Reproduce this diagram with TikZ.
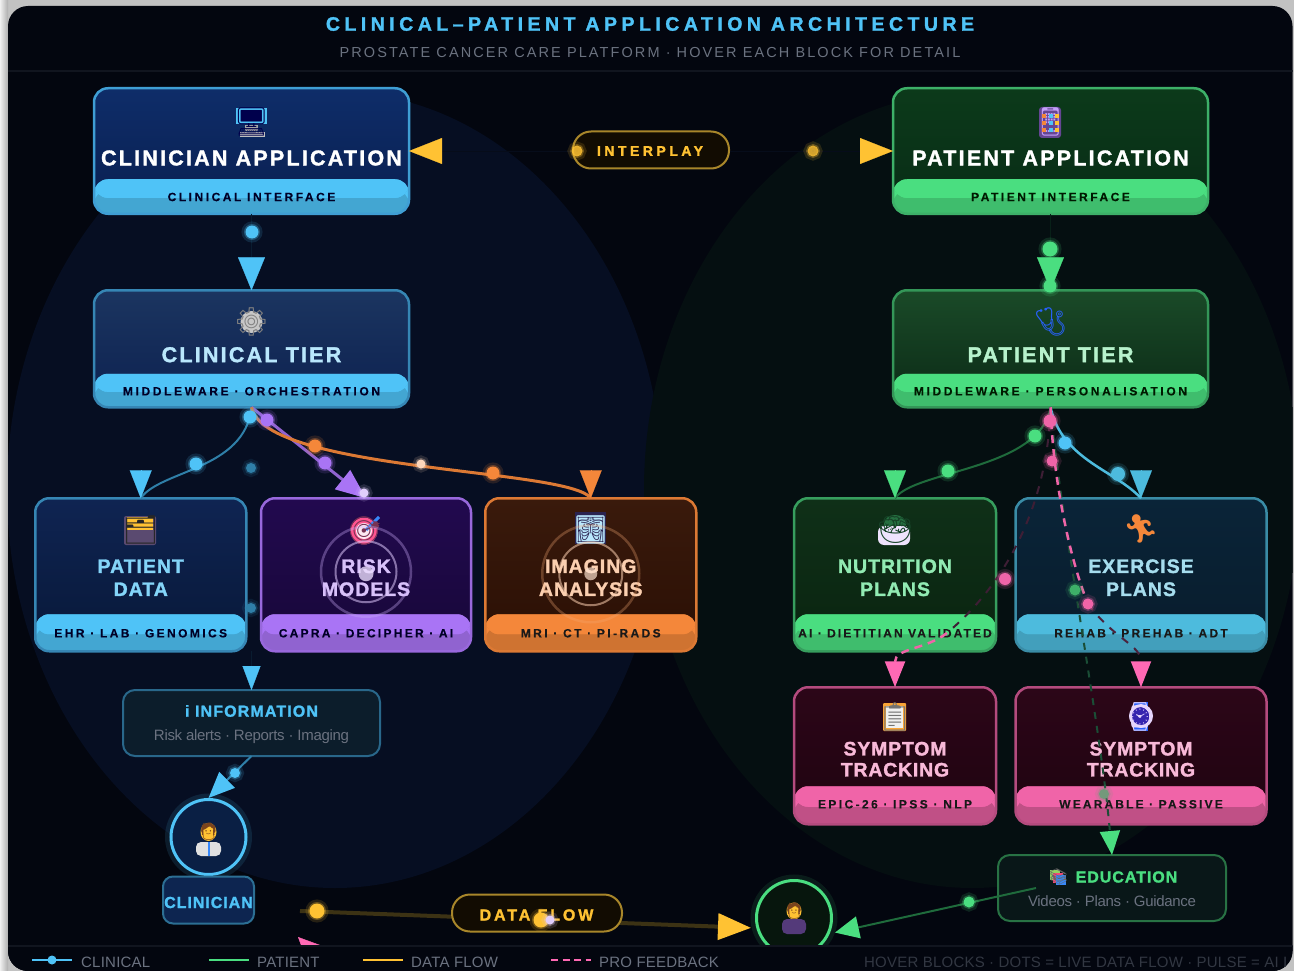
\documentclass[tikz,border=0pt]{standalone}
\usepackage{fontspec}
\usepackage{tikz}
\usetikzlibrary{arrows.meta}
\setmainfont{Liberation Sans}
\newfontfamily\emojifont{Noto Emoji}

\definecolor{clin}{HTML}{4FC3F7}
\definecolor{clinedge}{HTML}{3F9ED4}
\definecolor{clindim}{HTML}{2F7FA8}
\definecolor{pat}{HTML}{4ADE80}
\definecolor{patedge}{HTML}{3DB068}
\definecolor{patdim}{HTML}{1F6B3C}
\definecolor{gold}{HTML}{FFC233}
\definecolor{golddim}{HTML}{A8862A}
\definecolor{lilac}{HTML}{A974F5}
\definecolor{amber}{HTML}{F4873A}
\definecolor{rose}{HTML}{F064A8}
\definecolor{rosetip}{HTML}{FF69B4}
\definecolor{teal}{HTML}{4DBBDD}
\definecolor{panel}{HTML}{03060F}
\definecolor{rulegray}{HTML}{11151F}
\definecolor{legendgray}{HTML}{6B7280}
\definecolor{clinfield}{HTML}{060E22}
\definecolor{patfield}{HTML}{050F11}
\definecolor{clinapptop}{HTML}{0E2D69}
\definecolor{clinappbot}{HTML}{0A1F50}
\definecolor{patapptop}{HTML}{0C3A1A}
\definecolor{patappbot}{HTML}{082C16}
\definecolor{clintiertop}{HTML}{1B3560}
\definecolor{clintierbot}{HTML}{0D2150}
\definecolor{pattiertop}{HTML}{1A4A28}
\definecolor{pattierbot}{HTML}{0B2A16}
\definecolor{patdatatop}{HTML}{0F2452}
\definecolor{patdatabot}{HTML}{081838}
\definecolor{risktop}{HTML}{22094F}
\definecolor{riskbot}{HTML}{170838}
\definecolor{imagingtop}{HTML}{3A1A0C}
\definecolor{imagingbot}{HTML}{2A0F04}
\definecolor{nutritiontop}{HTML}{0F3018}
\definecolor{nutritionbot}{HTML}{0A2410}
\definecolor{exercisetop}{HTML}{0A2438}
\definecolor{exercisebot}{HTML}{081C2C}
\definecolor{symptomtop}{HTML}{2C0618}
\definecolor{symptombot}{HTML}{1F0410}
\definecolor{pillfill}{HTML}{120C02}
\definecolor{circleclin}{HTML}{0A1F44}
\definecolor{labelclin}{HTML}{0D2550}
\definecolor{foldergray}{HTML}{5A4A70}
\definecolor{xraydark}{HTML}{2A2350}
\definecolor{flowline}{HTML}{3C3214}
\definecolor{tracegreen}{HTML}{1A4E36}
\definecolor{wireblue}{HTML}{091C30}
\definecolor{wiregreen}{HTML}{082018}
\definecolor{wiredark}{HTML}{060C1A}

\tikzset{
  band/.style n args={3}{path picture={
    \fill[#2] ([yshift=#3 pt]path picture bounding box.south west) rectangle (path picture bounding box.south east);
    \fill[#1, rounded corners=14pt] ([yshift=#3 pt]path picture bounding box.south west) rectangle ([yshift=.46*#3 pt]path picture bounding box.south east);
    \fill[#1] ([yshift=.46*#3 pt+8pt]path picture bounding box.south west) rectangle ([yshift=.46*#3 pt]path picture bounding box.south east);
  }},
  lettered/.style n args={3}{font=\fontsize{#1}{#1}\selectfont\bfseries\addfontfeatures{LetterSpace=#2,FakeBold=1.5}, text=#3, inner sep=0pt},
  tiny lettered/.style n args={3}{font=\fontsize{#1}{#1}\selectfont\bfseries\addfontfeatures{LetterSpace=#2,FakeBold=.15}, text=#3, inner sep=0pt}
}

\begin{document}
\begin{tikzpicture}[x=1pt,y=-1pt]
  \tikzstyle{bigbox}=[rectangle,rounded corners=14pt,line width=2.5pt,outer sep=0pt,inner sep=0pt,minimum width=315pt]
  \tikzstyle{leafbox}=[rectangle,rounded corners=14pt,line width=2.5pt,outer sep=0pt,inner sep=0pt,minimum height=153pt]
  \tikzstyle{trackbox}=[rectangle,rounded corners=14pt,line width=2.5pt,outer sep=0pt,inner sep=0pt,minimum height=137pt]
  \tikzstyle{notebox}=[rectangle,rounded corners=12pt,line width=2pt,outer sep=0pt,inner sep=0pt,minimum height=66pt]
  \tikzstyle{pill}=[rectangle,rounded corners=18pt,draw=golddim,fill=pillfill,line width=2pt,outer sep=0pt,minimum height=37pt]
  \tikzstyle{flowdot}=[circle,fill=#1,draw=#1,draw opacity=.3,line width=3pt,inner sep=0pt,minimum size=13pt,preaction={draw=#1,draw opacity=.14,line width=8pt}]
  \tikzstyle{icon}=[font=\emojifont\fontsize{28}{28}\selectfont,inner sep=0pt]
  \tikzstyle{subtext}=[font=\fontsize{15}{15}\selectfont\addfontfeatures{LetterSpace=-2},text=legendgray,inner sep=0pt]
  \tikzstyle{legendtext}=[font=\fontsize{15}{15}\selectfont\addfontfeatures{LetterSpace=1.5},text=legendgray,inner sep=0pt,anchor=west]

  \useasboundingbox (0,0) rectangle (1294,971);
  % screenshot edge and panel
  \fill[black!24] (0,0) rectangle (1294,971);
  \shade[left color=black!6,right color=black!32] (0,0) rectangle (8,971);
  \begin{scope}
  \clip[rounded corners=20pt] (8,6) rectangle (1292.5,971);
  \fill[panel] (0,0) rectangle (1294,971);
  \fill[clinfield] (335,490) ellipse (328pt and 398pt);
  \fill[patfield] (972,490) ellipse (328pt and 398pt);
  \draw[rulegray,line width=1.5pt] (8,71) -- (1294,71);

  \node[font=\fontsize{19.5}{20}\selectfont\bfseries\addfontfeatures{LetterSpace=23,FakeBold=1.5},text=clin,inner sep=0pt] (title) at (650,24) {CLINICAL–PATIENT APPLICATION ARCHITECTURE};
  \node[font=\fontsize{14.5}{15}\selectfont\addfontfeatures{LetterSpace=14.5},text=legendgray,inner sep=0pt,below of=title,node distance=29pt] (subtitle) {PROSTATE CANCER CARE PLATFORM · HOVER EACH BLOCK FOR DETAIL};

  % top tier
  \node[bigbox,draw=clinedge,top color=clinapptop,bottom color=clinappbot,band={clin}{clin!85!black}{34.5},minimum height=125.5pt] (clinapp) at (251.5,151) {};
  \node[bigbox,draw=patedge,top color=patapptop,bottom color=patappbot,band={pat}{pat!85!black}{34.5},minimum height=125.5pt,right of=clinapp,node distance=799pt] (patapp) {};
  \node[bigbox,draw=clinedge!85!black,top color=clintiertop,bottom color=clintierbot,band={clin}{clin!85!black}{33.5},minimum height=117pt,below of=clinapp,node distance=197.75pt] (clintier) {};
  \node[bigbox,draw=patedge!85!black,top color=pattiertop,bottom color=pattierbot,band={pat}{pat!85!black}{33.5},minimum height=117pt,below of=patapp,node distance=197.75pt] (pattier) {};

  % clinical leaves
  \node[leafbox,minimum width=211pt,draw=clinedge!85!black,top color=patdatatop,bottom color=patdatabot,band={clin}{clin!85!black}{37},below of=clintier,node distance=226pt,xshift=-110.75pt] (patdata) {};
  \node[leafbox,minimum width=210pt,draw=lilac!90!black,top color=risktop,bottom color=riskbot,band={lilac}{lilac!85!black}{37},right of=patdata,node distance=225.25pt] (riskmodels) {};
  \node[leafbox,minimum width=211pt,draw=amber!90!black,top color=imagingtop,bottom color=imagingbot,band={amber}{amber!85!black}{37},right of=riskmodels,node distance=224.75pt] (imaging) {};

  % patient leaves
  \node[leafbox,minimum width=202pt,draw=patedge!90!black,top color=nutritiontop,bottom color=nutritionbot,band={pat}{pat!85!black}{37},below of=pattier,node distance=226pt,xshift=-155.5pt] (nutrition) {};
  \node[leafbox,minimum width=251pt,draw=teal!75!black,top color=exercisetop,bottom color=exercisebot,band={teal}{teal!85!black}{37},right of=nutrition,node distance=246pt] (exercise) {};
  \node[trackbox,minimum width=202pt,draw=rose!75!black,top color=symptomtop,bottom color=symptombot,band={rose}{rose!80!black}{38},below of=nutrition,node distance=181pt] (symptomleft) {};
  \node[trackbox,minimum width=251pt,draw=rose!75!black,top color=symptomtop,bottom color=symptombot,band={rose}{rose!80!black}{38},below of=exercise,node distance=181pt] (symptomright) {};

  % notes and people
  \node[notebox,minimum width=257pt,draw=clinedge!65!black,fill=clin!12!panel] (info) at (251.5,723) {};
  \node[notebox,minimum width=228pt,draw=patedge!65!black,fill=pat!8!panel] (edu) at (1112,888) {};
  \node[circle,draw=clin,fill=circleclin,line width=3pt,minimum size=75pt,inner sep=0pt,preaction={draw=clin,draw opacity=.12,line width=12pt}] (clinician) at (208.5,837) {};
  \node[rectangle,rounded corners=10pt,draw=clinedge!70!black,fill=labelclin,line width=2pt,minimum width=91pt,minimum height=47pt,inner sep=0pt,below of=clinician,node distance=63pt] (clinicianbox) {};
  \node[circle,draw=pat,fill=pat!10!black,line width=3pt,minimum size=75pt,inner sep=0pt,preaction={draw=pat,draw opacity=.1,line width=12pt}] (patient) at (794,918) {};

  % colour behind the icons
  \fill[clin] (236,108) rectangle (267,124);
  \fill[black!35] (245,125) rectangle (258,131);
  \fill[black!25] (240,132) rectangle (265,137);
  \fill[lilac!60!black,rounded corners=3pt] (1039,107) rectangle (1061,138);
  \fill[black!22] (251.5,322) circle (11pt);
  \fill[foldergray,rounded corners=2pt] (124,516) rectangle (156,545);
  \fill[gold] (127,517) rectangle (153,530);
  \fill[rosetip!80!red] (364,531) circle (13.5pt);
  \fill[white!85!rose] (364,531) circle (8pt);
  \draw[clin!70!blue,line width=3pt] (366,530) -- (379,517);
  \fill[xraydark] (575,512) rectangle (606,544);
  \fill[pat!50!black] (895,524) ellipse (11pt and 9pt);
  \fill[lilac!20!white,rounded corners=6pt] (878,526) rectangle (910,545);
  \fill[amber!50!gold,rounded corners=1pt] (883,703) rectangle (906,731);
  \fill[black!6] (886,706) rectangle (903,728);
  \fill[blue!50!clin] (1134,702) rectangle (1148,731);
  \fill[lilac!30!white] (1141,716) circle (12pt);
  \fill[blue!55!lilac!70!black] (1141,716) circle (9pt);
  \fill[pat!60!gold] (1050,870) rectangle (1060,880);
  \fill[rose!70!red] (1053,873) rectangle (1063,883);
  \fill[clin!70!blue] (1056,875) rectangle (1066,885);
  \fill[gold] (208.5,832) ellipse (8pt and 9pt);
  \fill[black!12,rounded corners=5pt] (196,842) rectangle (221,856);
  \fill[clin!70!blue] (207.5,842) rectangle (209.5,856);
  \fill[gold] (794,911) ellipse (7.5pt and 8.5pt);
  \fill[lilac!50!black,rounded corners=5pt] (782,919) rectangle (806,934);

  \node[icon,above of=clinapp,node distance=29pt,text=black!70!blue] (clinappicon) {🖥};
  \node[icon,above of=patapp,node distance=29pt,text=lilac!70!white] (patappicon) {📱};
  \draw[amber,line width=4pt,dash pattern=on 4pt off 3pt] (1044,114) -- (1044,133);
  \draw[clin,line width=4pt,dash pattern=on 4pt off 3pt] (1050.5,114) -- (1050.5,133);
  \draw[gold,line width=4pt,dash pattern=on 4pt off 3pt] (1057,114) -- (1057,133);
  \node[lettered={21.5}{10.3}{white},below of=clinapp,node distance=7pt] (clinapptitle) {CLINICIAN APPLICATION};
  \node[lettered={21.5}{10.3}{white},below of=patapp,node distance=7pt] (patapptitle) {PATIENT APPLICATION};
  \node[tiny lettered={12}{21}{black!85!blue},below of=clinapp,node distance=46pt] (clinappsub) {CLINICAL INTERFACE};
  \node[tiny lettered={12}{21}{black!90!green},below of=patapp,node distance=46pt] (patappsub) {PATIENT INTERFACE};

  \node[icon,above of=clintier,node distance=27pt,text=black!50] (clintiericon) {⚙};
  \node[icon,above of=pattier,node distance=27pt,text=blue!50!clin] (pattiericon) {🩺};
  \node[lettered={21.5}{10.3}{clin!40!white},below of=clintier,node distance=6pt] (clintiertitle) {CLINICAL TIER};
  \node[lettered={21.5}{10.3}{pat!40!white},below of=pattier,node distance=6pt] (pattiertitle) {PATIENT TIER};
  \node[tiny lettered={12}{22}{black!85!blue},below of=clintier,node distance=42.5pt] (clintiersub) {MIDDLEWARE · ORCHESTRATION};
  \node[tiny lettered={12}{22}{black!90!green},below of=pattier,node distance=42.5pt] (pattiersub) {MIDDLEWARE · PERSONALISATION};

  \node[icon,above of=patdata,node distance=45pt,text=black!85] (patdataicon) {🗂};
  \node[icon,above of=riskmodels,node distance=44pt,xshift=-1pt,text=rose!50!black] (riskicon) {🎯};
  \node[icon,above of=imaging,node distance=45pt,text=clin!40!white] (imagingicon) {🩻};
  \node[lettered={19.5}{5}{clin!70!white},align=center,below of=patdata,node distance=3pt] (patdatatitle) {PATIENT\\[3.5pt]DATA};
  \node[lettered={19.5}{5}{lilac!45!white},align=center,below of=riskmodels,node distance=3pt] (risktitle) {RISK\\[3.5pt]MODELS};
  \node[lettered={19.5}{5}{amber!40!white},align=center,below of=imaging,node distance=3pt] (imagingtitle) {IMAGING\\[3.5pt]ANALYSIS};
  \node[tiny lettered={12}{20}{black!85!blue},below of=patdata,node distance=58.5pt] (patdatasub) {EHR · LAB · GENOMICS};
  \node[tiny lettered={12}{19}{black!85!blue},below of=riskmodels,node distance=58.5pt] (risksub) {CAPRA · DECIPHER · AI};
  \node[tiny lettered={12}{20}{black!90},below of=imaging,node distance=58.5pt] (imagingsub) {MRI · CT · PI-RADS};

  % pulse rings
  \node[circle,draw=lilac!60!white,draw opacity=.35,line width=2.5pt,minimum size=90pt,inner sep=0pt,below of=riskmodels,node distance=-3pt] (riskouter) {};
  \node[circle,draw=lilac!40!white,draw opacity=.55,line width=2pt,minimum size=61pt,inner sep=0pt,below of=riskmodels,node distance=-3pt] (riskinner) {};
  \node[circle,fill=lilac!25!white,fill opacity=.8,minimum size=15pt,inner sep=0pt,below of=riskmodels,node distance=-1pt] (riskcore) {};
  \node[circle,draw=amber!70!white,draw opacity=.3,line width=2.5pt,minimum size=97pt,inner sep=0pt,below of=imaging,node distance=-1pt] (imagingouter) {};
  \node[circle,draw=amber!40!white,draw opacity=.55,line width=2pt,minimum size=63pt,inner sep=0pt,below of=imaging,node distance=-1pt] (imaginginner) {};
  \node[circle,fill=amber!25!white,fill opacity=.7,minimum size=13pt,inner sep=0pt,below of=imaging,node distance=-1pt] (imagingcore) {};

  \node[icon,above of=nutrition,node distance=45pt,text=black!70!pat] (nutritionicon) {🥗};
  \node[icon,above of=exercise,node distance=46pt,text=amber] (exerciseicon) {🏃};
  \node[icon,above of=symptomleft,node distance=39pt,text=black!55] (symptomlefticon) {📋};
  \node[icon,above of=symptomright,node distance=39pt,text=lilac!30!white] (symptomrighticon) {⌚};
  \node[lettered={19.5}{5}{pat!60!white},align=center,below of=nutrition,node distance=3pt] (nutritiontitle) {NUTRITION\\[3.5pt]PLANS};
  \node[lettered={19.5}{5}{teal!50!white},align=center,below of=exercise,node distance=3pt] (exercisetitle) {EXERCISE\\[3.5pt]PLANS};
  \node[lettered={19.5}{4}{rose!45!white},align=center,below of=symptomleft,node distance=3.5pt] (symptomlefttitle) {SYMPTOM\\[1.5pt]TRACKING};
  \node[lettered={19.5}{4}{rose!45!white},align=center,below of=symptomright,node distance=3.5pt] (symptomrighttitle) {SYMPTOM\\[1.5pt]TRACKING};
  \node[tiny lettered={12}{17.5}{black!90},below of=nutrition,node distance=58.5pt] (nutritionsub) {AI · DIETITIAN VALIDATED};
  \node[tiny lettered={12}{19}{black!90},below of=exercise,node distance=58.5pt] (exercisesub) {REHAB · PREHAB · ADT};
  \node[tiny lettered={12}{20}{black!90},below of=symptomleft,node distance=48.5pt] (symptomleftsub) {EPIC-26 · IPSS · NLP};
  \node[tiny lettered={12}{18}{black!90},below of=symptomright,node distance=48.5pt] (symptomrightsub) {WEARABLE · PASSIVE};

  \node[lettered={16}{7}{clin},above of=info,node distance=12pt] (infotitle) {i INFORMATION};
  \node[subtext,below of=info,node distance=14pt] (infosub) {Risk alerts · Reports · Imaging};
  \node[lettered={16}{6}{pat},above of=edu,node distance=11pt,xshift=14.5pt] (edutitle) {EDUCATION};
  \node[icon,font=\emojifont\fontsize{16}{16}\selectfont,text=black!60,left of=edutitle,node distance=68pt] (eduicon) {📚};
  \node[subtext,below of=edu,node distance=13pt] (edusub) {Videos · Plans · Guidance};

  \node[icon,font=\emojifont\fontsize{17}{17}\selectfont,text=amber!50!black] (clinicianicon) at (208.5,832) {🧑};
  \node[lettered={16}{6}{clin},below of=clinicianbox,node distance=2.5pt] (cliniciantext) {CLINICIAN};
  \node[icon,font=\emojifont\fontsize{16}{16}\selectfont,text=amber!50!black] (patienticon) at (794,911) {🧑};

  % connectors
  \coordinate (flowstart) at (300,911);
  \coordinate (eduout) at (1036,888);
  \coordinate (hiddenback) at (322,961);
  \coordinate (hiddentip) at (298,937);
  \coordinate (feedbackL) at (947,633);
  \coordinate (feedbackR) at (1088,604);

  \draw[rosetip,-{Triangle[length=26pt,width=24pt]}] (hiddenback) -- (hiddentip);
  \draw[flowline,line width=4pt,shorten >=4pt,-{Triangle[length=33pt,width=26pt,color=gold]}] (flowstart) -- (patient.west|-0,928);
  \draw[wireblue,line width=.3pt,-{Triangle[length=33pt,width=27pt,color=clin]}] (clinapp.south) -- (clintier.north);
  \draw[wiregreen,line width=.3pt,-{Triangle[length=33pt,width=27pt,color=pat]}] (patapp.south) -- (pattier.north);
  \draw[wiredark,line width=.2pt,{Triangle[length=33pt,width=26pt,color=gold]}-{Triangle[length=33pt,width=26pt,color=gold]}] (clinapp.east|-0,151) -- (patapp.west|-0,151);

  \draw[clindim,line width=2pt] (clintier.south) .. controls (245,470) and (160,470) .. (patdata.north);
  \draw[clin,line width=.1pt,-{Triangle[length=28pt,width=22pt]}] ([yshift=28pt]patdata.north) -- (patdata.north);
  \draw[lilac!85!black,line width=3pt,-{Triangle[length=30pt,width=24pt,color=lilac]}] (clintier.south) -- (riskmodels.north);
  \draw[amber!90!black,line width=3pt] (clintier.south) .. controls (265,472) and (570,468) .. (imaging.north);
  \draw[amber,line width=.1pt,-{Triangle[length=28pt,width=22pt]}] ([yshift=28pt]imaging.north) -- (imaging.north);
  \draw[wireblue,line width=.3pt,-{Triangle[length=24pt,width=18pt,color=clin]}] (info.north|-patdata.south) -- (info.north);
  \draw[clindim,line width=2pt,-{Triangle[length=26pt,width=22pt,color=clin]}] (info.south) -- (clinician.north);

  \draw[patdim,line width=2pt] (pattier.south) .. controls (1040,470) and (915,470) .. (nutrition.north);
  \draw[pat,line width=.1pt,-{Triangle[length=28pt,width=22pt]}] ([yshift=28pt]nutrition.north) -- (nutrition.north);
  \draw[teal,line width=2.5pt] (pattier.south) .. controls (1062,460) and (1115,470) .. (exercise.north);
  \draw[teal,line width=.1pt,-{Triangle[length=28pt,width=22pt]}] ([yshift=28pt]exercise.north) -- (exercise.north);
  \draw[tracegreen,line width=2pt,dash pattern=on 7pt off 7pt,-{Triangle[length=24pt,width=20pt,color=pat]}] (pattier.south) .. controls (1062,530) and (1100,720) .. (edu.north);
  \draw[rose!25!panel,line width=2pt,dash pattern=on 8pt off 8pt] (pattier.south) .. controls (1048,500) and (1010,580) .. (feedbackL);
  \draw[rose,line width=2.5pt,dash pattern=on 8pt off 6pt,-{Triangle[length=26pt,width=20pt,color=rosetip]}] (feedbackL) .. controls (925,650) and (895,648) .. (symptomleft.north);
  \draw[rose,line width=2.5pt,dash pattern=on 8pt off 6pt] (pattier.south) .. controls (1053,480) and (1070,560) .. (feedbackR);
  \draw[rose!30!panel,line width=2pt,dash pattern=on 8pt off 8pt,-{Triangle[length=26pt,width=20pt,color=rosetip]}] (feedbackR) .. controls (1115,640) and (1141,645) .. (symptomright.north);
  \draw[patdim,line width=2pt,shorten >=2pt,-{Triangle[length=24pt,width=22pt,color=pat]}] (eduout) -- (patient.east|-0,933);

  \node[pill,minimum width=156pt] (interplay) at (651,150) {};
  \node[lettered={14}{25}{gold}] (interplaytext) at (650,151) {INTERPLAY};
  \node[pill,minimum width=170pt] (dataflow) at (537,913) {};
  \node[lettered={16}{18}{gold}] (dataflowtext) at (536.5,915) {DATA FLOW};

  % live dots
  \node[flowdot=clin] (dotA) at (252,232) {};
  \node[flowdot=pat,minimum size=15pt] (dotB) at (1050,249) {};
  \node[flowdot=pat] (dotC) at (1050,286) {};
  \node[flowdot=gold,minimum size=11pt,fill opacity=.85] (dotD) at (577,151) {};
  \node[flowdot=gold,minimum size=11pt,fill opacity=.8] (dotE) at (813,151) {};
  \node[flowdot=clin] (dotF) at (250,417) {};
  \node[flowdot=lilac] (dotG) at (267,420) {};
  \node[flowdot=clin] (dotH) at (196,464) {};
  \node[flowdot=clindim,minimum size=10pt] (dotI) at (251,468) {};
  \node[flowdot=clindim,minimum size=10pt] (dotJ) at (251,608) {};
  \node[flowdot=amber] (dotK) at (315,446) {};
  \node[flowdot=lilac] (dotL) at (325,463) {};
  \node[flowdot=amber!35!white,minimum size=9pt] (dotM) at (421,464) {};
  \node[flowdot=amber] (dotN) at (493,473) {};
  \node[flowdot=lilac!35!white,minimum size=9pt] (dotO) at (364,493) {};
  \node[flowdot=rose] (dotP) at (1050,421) {};
  \node[flowdot=pat] (dotQ) at (1035,436) {};
  \node[flowdot=clin] (dotR) at (1065,443) {};
  \node[flowdot=rose,minimum size=11pt] (dotS) at (1052,461) {};
  \node[flowdot=pat] (dotT) at (948,471) {};
  \node[flowdot=teal,minimum size=14pt] (dotU) at (1118,474) {};
  \node[flowdot=rose,minimum size=12pt] (dotV) at (1005,579) {};
  \node[flowdot=patedge,minimum size=11pt] (dotW) at (1075,590) {};
  \node[flowdot=rose,minimum size=11pt] (dotX) at (1088,604) {};
  \node[flowdot=patedge!70!rose,minimum size=10pt] (dotY) at (1104,794) {};
  \node[flowdot=pat,minimum size=11pt] (dotZ) at (969,902) {};
  \node[flowdot=clin,minimum size=10pt] (dotAA) at (235,773) {};
  \node[flowdot=gold,minimum size=15pt] (dotAB) at (317,911) {};
  \node[flowdot=gold,minimum size=15pt] (dotAC) at (541,920) {};
  \node[flowdot=lilac!35!white,minimum size=9pt] (dotAD) at (550,920) {};

  % legend
  \fill[panel] (0,946) rectangle (1294,971);
  \draw[rulegray,line width=1.5pt] (8,946) -- (1294,946);
  \coordinate (legA) at (32,960);
  \coordinate (legB) at (72,960);
  \draw[clin,line width=2.5pt] (legA) -- (legB);
  \node[circle,fill=clin,minimum size=9pt,inner sep=0pt] (legdot) at (52,960) {};
  \node[legendtext] (legclin) at (81,962) {CLINICAL};
  \coordinate (legC) at (209,960);
  \coordinate (legD) at (249,960);
  \draw[pat,line width=2.5pt] (legC) -- (legD);
  \node[legendtext] (legpat) at (257,962) {PATIENT};
  \coordinate (legE) at (363,960);
  \coordinate (legF) at (403,960);
  \draw[gold,line width=2.5pt] (legE) -- (legF);
  \node[legendtext] (legflow) at (411,962) {DATA FLOW};
  \coordinate (legG) at (551,960);
  \coordinate (legH) at (591,960);
  \draw[rosetip,line width=2.5pt,dash pattern=on 7pt off 4.5pt] (legG) -- (legH);
  \node[legendtext] (legfeed) at (599,962) {PRO FEEDBACK};
  \node[legendtext,text=legendgray!45!panel] (leghover) at (864,962) {HOVER BLOCKS · DOTS = LIVE DATA FLOW · PULSE = AI I};
  \end{scope}
\end{tikzpicture}
\end{document}
